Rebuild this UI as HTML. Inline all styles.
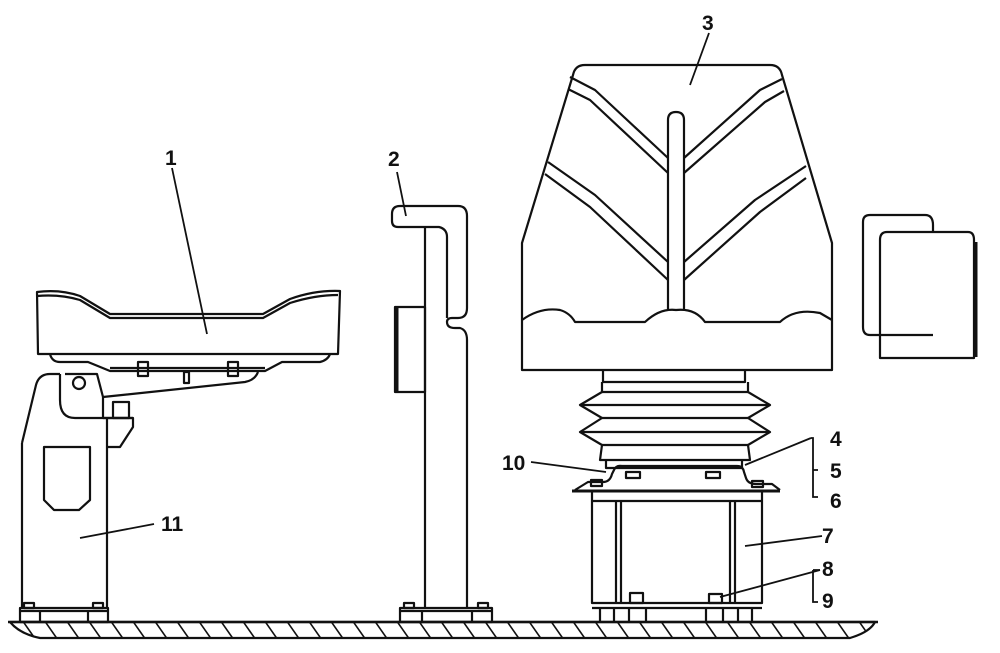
<!DOCTYPE html>
<html><head><meta charset="utf-8"><style>
html,body{margin:0;padding:0;background:#fff}
svg{display:block}
text{font-family:"Liberation Sans",sans-serif;font-weight:bold;font-size:21px;fill:#111}
</style></head><body>
<svg width="1000" height="653" viewBox="0 0 1000 653" xmlns="http://www.w3.org/2000/svg">
<defs>
<pattern id="h" width="22" height="20" patternUnits="userSpaceOnUse">
<line x1="0" y1="0" x2="14" y2="20" stroke="#111" stroke-width="1.6"/>
</pattern>
</defs>
<g fill="none" stroke="#111" stroke-width="2.2" stroke-linejoin="round">
<!-- ground -->
<path d="M10 622 L875 622 Q870 632 850 638 L40 638 Q20 634 10 622 Z" fill="url(#h)"/>
<line x1="8" y1="622" x2="878" y2="622" stroke-width="2.5"/>

<!-- seat 1 cushion -->
<path d="M37 292 Q60 289 80 296 L110 314 L263 314 L290 299 Q315 290 340 291 L338 354 L38 354 Z"/>
<path d="M37 296 Q60 294 80 300 L110 318 L263 318 L290 303 Q315 295 338 295"/>
<path d="M50 354 Q52 362 60 362 L88 362 L110 371 L265 371 L282 362 L320 362 Q328 360 330 354"/>
<line x1="110" y1="368" x2="265" y2="368"/>
<rect x="138" y="362" width="10" height="14"/>
<rect x="228" y="362" width="10" height="14"/>
<rect x="184" y="372" width="5" height="11"/>
<!-- bracket -->
<path d="M60 374 L60 400 Q60 418 75 418 L133 418 L133 427 L120 447 L107 447"/>
<path d="M65 374 L97 374 L103 397 L103 418"/>
<path d="M103 397 L245 382 Q255 380 258 372"/>
<circle cx="79" cy="383" r="6"/>
<rect x="113" y="402" width="16" height="16"/>
<line x1="103" y1="418" x2="133" y2="418"/>
<!-- stand 11 -->
<path d="M22 443 L36 385 Q39 374 50 374 L60 374 M22 443 L22 608 M107 418 L107 608"/>
<path d="M44 447 L90 447 L90 500 L79 510 L54 510 L44 500 Z"/>
<rect x="20" y="608" width="88" height="14"/>
<line x1="20" y1="611" x2="108" y2="611"/>
<line x1="40" y1="611" x2="40" y2="622"/><line x1="88" y1="611" x2="88" y2="622"/>
<rect x="24" y="603" width="10" height="5"/><rect x="93" y="603" width="10" height="5"/>

<!-- pillar 2 -->
<path d="M425 227 L398 227 Q392 227 392 221 L392 214 Q392 206 400 206 L458 206 Q467 206 467 216 L467 308 Q467 318 458 318 L452 318 Q447 318 447 322 Q447 328 455 328 L460 328 Q467 330 467 340 L467 608"/>
<path d="M425 227 L439 227 Q447 229 447 237 L447 318"/>
<line x1="425" y1="227" x2="425" y2="608"/>
<rect x="395" y="307" width="30" height="85"/>
<line x1="397" y1="307" x2="397" y2="392" stroke-width="3"/>
<rect x="400" y="608" width="92" height="14"/>
<line x1="400" y1="611" x2="492" y2="611"/>
<line x1="422" y1="611" x2="422" y2="622"/><line x1="472" y1="611" x2="472" y2="622"/>
<rect x="404" y="603" width="10" height="5"/><rect x="478" y="603" width="10" height="5"/>

<!-- seat 3 back -->
<path d="M573 75 Q575 65 585 65 L770 65 Q780 65 782 75 L832 243 L832 370 L522 370 L522 243 Z"/>
<path d="M570 77 L595 90 L668 158 M568 89 L590 100 L668 173"/>
<path d="M782 79 L760 90 L684 158 M784 91 L765 102 L684 173"/>
<path d="M548 162 L595 195 L668 262 M545 174 L590 207 L668 280"/>
<path d="M806 166 L755 200 L684 262 M806 178 L760 212 L684 280"/>
<path d="M668 310 L668 120 Q668 112 676 112 Q684 112 684 120 L684 310"/>
<path d="M522 320 Q540 307 560 310 Q570 313 575 322 L645 322 Q660 308 676 310 Q695 308 705 322 L780 322 Q795 308 820 313 L832 320"/>
<!-- armrest -->
<path d="M870 215 L925 215 Q933 215 933 225 L933 335 L870 335 Q863 335 863 327 L863 222 Q863 215 870 215 Z"/>
<path d="M887 232 L968 232 Q974 232 974 240 L974 358 L880 358 L880 240 Q880 232 887 232 Z" fill="#fff"/>
<line x1="976" y1="242" x2="976" y2="357" stroke-width="3"/>
<line x1="880" y1="335" x2="933" y2="335"/>

<!-- bellows -->
<path d="M603 370 L603 382 L745 382 L745 370"/>
<path d="M602 382 L602 392 L580 405 L602 418 L580 432 L602 445 L600 460 L750 460 L748 445 L770 432 L748 418 L770 405 L748 392 L748 382"/>
<path d="M602 392 L748 392 M580 405 L770 405 M602 418 L748 418 M580 432 L770 432 M602 445 L748 445"/>
<path d="M606 460 L606 468 L742 468 L742 460"/>
<!-- bracket plate -->
<path d="M575 490 L588 482 L603 482 Q610 482 612 474 L614 470 Q616 465 622 466 L737 466 Q743 466 744 472 L746 478 Q748 484 756 484 L772 484 L780 490"/>
<line x1="572" y1="491" x2="780" y2="491" stroke-width="3"/>
<rect x="626" y="472" width="14" height="6"/><rect x="706" y="472" width="14" height="6"/>
<rect x="591" y="480" width="11" height="6"/><rect x="752" y="481" width="11" height="6"/>
<!-- box 7 -->
<path d="M592 491 L592 603 L762 603 L762 491"/>
<line x1="593" y1="501" x2="761" y2="501"/>
<line x1="616" y1="501" x2="616" y2="603"/><line x1="621" y1="501" x2="621" y2="603"/>
<line x1="730" y1="501" x2="730" y2="603"/><line x1="735" y1="501" x2="735" y2="603"/>
<line x1="592" y1="608" x2="762" y2="608"/>
<rect x="630" y="593" width="13" height="10"/><rect x="709" y="594" width="13" height="9"/>
<path d="M600 608 L600 622 M614 608 L614 622 M629 608 L629 622 M646 608 L646 622 M706 608 L706 622 M723 608 L723 622 M738 608 L738 622 M752 608 L752 622"/>
</g>

<!-- leader lines -->
<g stroke="#111" stroke-width="1.8" fill="none">
<line x1="172" y1="168" x2="207" y2="334"/>
<line x1="397" y1="172" x2="406" y2="216"/>
<line x1="709" y1="33" x2="690" y2="85"/>
<line x1="154" y1="524" x2="80" y2="538"/>
<line x1="531" y1="462" x2="606" y2="472"/>
<line x1="811" y1="438" x2="745" y2="465"/>
<path d="M811 438 L813 438 L813 497 L818 497 M813 470 L818 470"/>
<line x1="822" y1="536" x2="745" y2="546"/>
<path d="M813 570 L813 602 L818 602 M820 570 L813 570"/>
<line x1="820" y1="570" x2="720" y2="597"/>
</g>

<g>
<text x="165" y="165">1</text>
<text x="388" y="166">2</text>
<text x="702" y="30">3</text>
<text x="830" y="446">4</text>
<text x="830" y="478">5</text>
<text x="830" y="508">6</text>
<text x="822" y="543">7</text>
<text x="822" y="576">8</text>
<text x="822" y="608">9</text>
<text x="502" y="470">10</text>
<text x="161" y="531">11</text>
</g>
</svg>
</body></html>
